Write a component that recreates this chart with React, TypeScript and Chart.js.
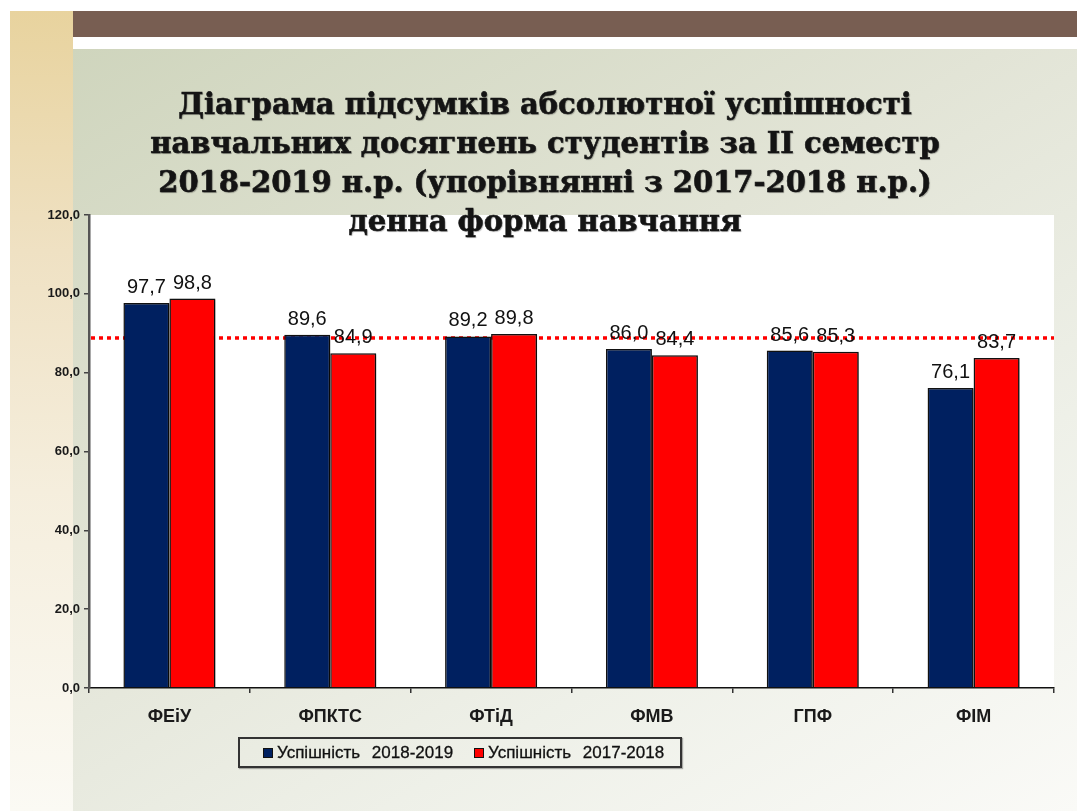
import React, { useEffect, useRef } from "react";
import { Chart, registerables } from "chart.js";

Chart.register(...registerables);

const categories = ["ФЕіУ", "ФПКТС", "ФТіД", "ФМВ", "ГПФ", "ФІМ"];
const series2019 = [97.7, 89.6, 89.2, 86.0, 85.6, 76.1];
const series2018 = [98.8, 84.9, 89.8, 84.4, 85.3, 83.7];
const seriesNames = ["Успішність 2018-2019", "Успішність 2017-2018"];
const seriesColors = ["#002060", "#ff0000"];
const referenceLevel = 88.8;
const yTicks = [0, 20, 40, 60, 80, 100, 120];
const titleLines = [
  "Діаграма підсумків абсолютної успішності",
  "навчальних досягнень студентів за ІІ семестр",
  "2018-2019 н.р. (упорівнянні з 2017-2018 н.р.)",
  "денна форма навчання",
];

const fmt = (v: number) => v.toFixed(1).replace(".", ",");

const plotBgPlugin = {
  id: "plotBg",
  beforeDraw(chart: any) {
    const { ctx, chartArea } = chart;
    ctx.save();
    ctx.fillStyle = "#ffffff";
    ctx.fillRect(chartArea.left, chartArea.top, chartArea.right - chartArea.left, chartArea.bottom - chartArea.top);
    ctx.restore();
  },
};

const refLinePlugin = {
  id: "refLine",
  beforeDatasetsDraw(chart: any) {
    const { ctx, chartArea, scales } = chart;
    const y = scales.y.getPixelForValue(referenceLevel);
    ctx.save();
    ctx.strokeStyle = "#ff0000";
    ctx.lineWidth = 3.5;
    ctx.setLineDash([4, 4]);
    ctx.beginPath();
    ctx.moveTo(chartArea.left + 2, y);
    ctx.lineTo(chartArea.right, y);
    ctx.stroke();
    ctx.restore();
    ctx.save();
    ctx.shadowColor = "rgba(0,0,0,0.4)";
    ctx.shadowOffsetX = 2;
    ctx.shadowOffsetY = 1;
    ctx.shadowBlur = 2;
  },
  afterDatasetsDraw(chart: any) {
    const { ctx } = chart;
    ctx.restore();
    ctx.save();
    ctx.font = "20px 'Liberation Sans', Arial, sans-serif";
    ctx.fillStyle = "#111111";
    ctx.textAlign = "center";
    ctx.textBaseline = "alphabetic";
    chart.data.datasets.forEach((ds: any, i: number) => {
      const meta = chart.getDatasetMeta(i);
      meta.data.forEach((el: any, j: number) => {
        ctx.fillText(fmt(ds.data[j]), el.x, el.y - 10);
      });
    });
    ctx.restore();
  },
};

function ChartView() {
  const ref = useRef<HTMLCanvasElement | null>(null);
  useEffect(() => {
    if (!ref.current) return;
    const chart = new Chart(ref.current, {
      type: "bar",
      data: {
        labels: categories,
        datasets: [
          {
            label: seriesNames[0],
            data: series2019,
            backgroundColor: seriesColors[0],
            borderColor: "#111111",
            borderWidth: 1.5,
            categoryPercentage: 0.572,
            barPercentage: 1,
          },
          {
            label: seriesNames[1],
            data: series2018,
            backgroundColor: seriesColors[1],
            borderColor: "#111111",
            borderWidth: 1.5,
            categoryPercentage: 0.572,
            barPercentage: 1,
          },
        ],
      },
      options: {
        responsive: false,
        animation: false,
        devicePixelRatio: 1,
        layout: { padding: { top: 215, right: 23, left: 0, bottom: 0 } },
        plugins: { legend: { display: false }, title: { display: false }, tooltip: { enabled: false } },
        scales: {
          x: {
            grid: { offset: true, drawOnChartArea: false, tickLength: 5, color: "#333333", lineWidth: 1.5 },
            border: { color: "#111111", width: 1.5 },
            ticks: {
              font: { family: "'Liberation Sans', Arial, sans-serif", size: 18, weight: "bold" },
              color: "#1a1a1a",
              padding: 13,
            },
            afterFit: (s: any) => {
              s.height = 123;
            },
          },
          y: {
            min: 0,
            max: 120,
            afterBuildTicks: (s: any) => {
              s.ticks = yTicks.map((v) => ({ value: v }));
            },
            ticks: {
              callback: (v: any) => fmt(Number(v)),
              font: { family: "'Liberation Sans', Arial, sans-serif", size: 13, weight: "bold" },
              color: "#1a1a1a",
              padding: 4,
            },
            grid: { drawOnChartArea: false, tickLength: 5, color: "#444444", lineWidth: 1.5 },
            border: { color: "#555555", width: 2.5 },
            afterFit: (s: any) => {
              s.width = 89;
            },
          },
        },
      },
      plugins: [plotBgPlugin, refLinePlugin],
    });
    return () => chart.destroy();
  }, []);
  return <canvas ref={ref} width={1077} height={811} style={{ position: "absolute", left: 0, top: 0 }} />;
}

export default function App() {
  return (
    <div style={{ position: "fixed", left: 0, top: 0, width: 1077, height: 811, overflow: "hidden", background: "#ffffff" }}>
      <div
        style={{
          position: "absolute",
          left: 10,
          top: 11,
          width: 63,
          height: 800,
          background: "linear-gradient(to bottom, #e8d39e 0%, #efe1c3 30%, #f5eedd 60%, #fbfaf4 100%)",
        }}
      />
      <div style={{ position: "absolute", left: 73, top: 11, width: 1004, height: 26, background: "#785e52" }} />
      <div
        style={{
          position: "absolute",
          left: 73,
          top: 49,
          width: 1004,
          height: 762,
          background: "linear-gradient(150deg, #cfd5bd 0%, #e2e4d6 40%, #eef0e8 70%, #fafaf7 100%)",
        }}
      />
      <ChartView />
      <div
        style={{
          position: "absolute",
          left: 0,
          top: 85,
          width: 1090,
          textAlign: "center",
          fontFamily: "'DejaVu Serif', serif",
          fontWeight: "bold",
          fontSize: 29,
          lineHeight: "39px",
          color: "#141414",
          WebkitTextStroke: "0.6px #141414",
          textShadow: "1px 1px 1px rgba(0,0,0,0.3)",
          whiteSpace: "nowrap",
        }}
      >
        {titleLines.map((l, i) => (
          <div key={i}>{l}</div>
        ))}
      </div>
      <div
        style={{
          position: "absolute",
          left: 238,
          top: 737,
          width: 444,
          height: 31,
          boxSizing: "border-box",
          border: "2px solid #333333",
          boxShadow: "1px 1px 1px rgba(0,0,0,0.3)",
          fontFamily: "'Liberation Sans', Arial, sans-serif",
          fontSize: 17,
          color: "#111111",
        }}
      >
        {seriesNames.map((n, i) => (
          <React.Fragment key={i}>
            <span
              style={{
                position: "absolute",
                left: i === 0 ? 23 : 234,
                top: 9,
                width: 8,
                height: 8,
                background: seriesColors[i],
                border: "1px solid #111",
              }}
            />
            <span
              style={{
                position: "absolute",
                left: i === 0 ? 37 : 248,
                top: 4,
                lineHeight: "20px",
                wordSpacing: 7,
                whiteSpace: "nowrap",
                WebkitTextStroke: "0.3px #111111",
              }}
            >
              {n}
            </span>
          </React.Fragment>
        ))}
      </div>
    </div>
  );
}
